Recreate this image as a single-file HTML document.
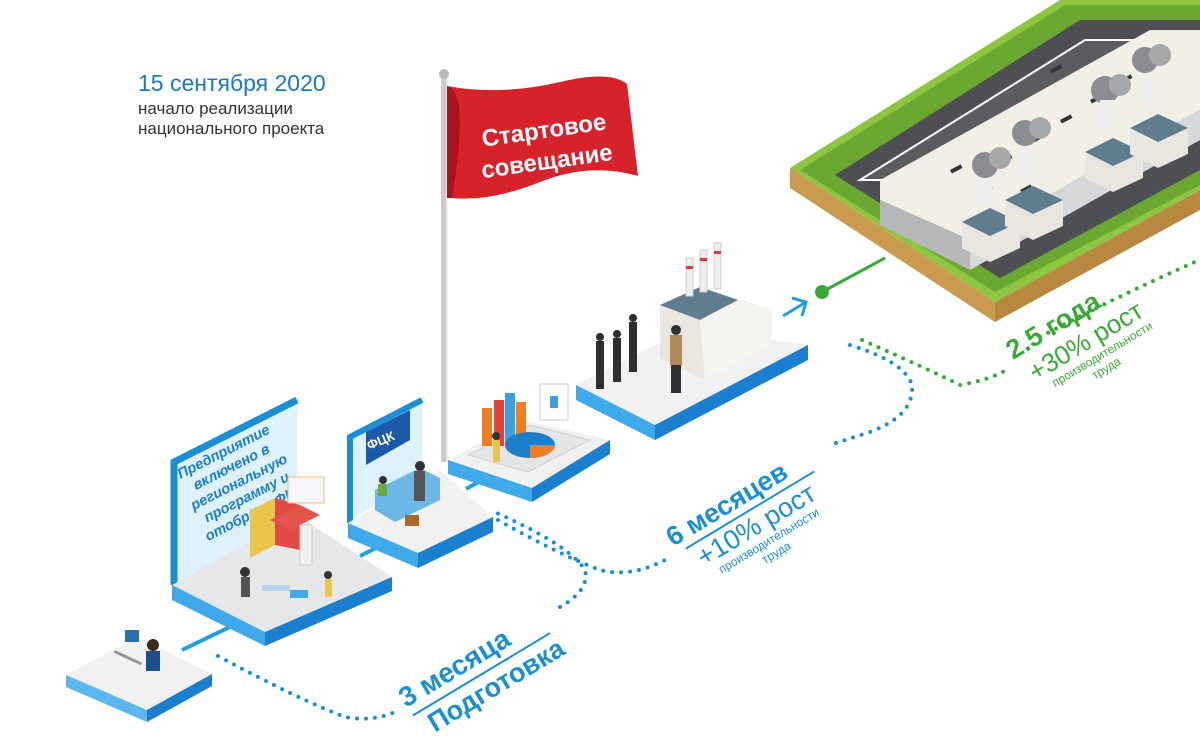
<!DOCTYPE html>
<html><head><meta charset="utf-8"><style>
html,body{margin:0;padding:0;background:#fff;}
svg{display:block;font-family:"Liberation Sans",sans-serif;}
</style></head><body>
<svg width="1200" height="739" viewBox="0 0 1200 739" xmlns="http://www.w3.org/2000/svg">
<!-- big land -->
<polygon points="790,168 1060,0 1200,0 1200,190 995,302" fill="#8cc63f"/>
<polygon points="800,170 1065,5 1200,5 1200,185 995,292" fill="#6aa832"/>
<polygon points="835,175 1080,20 1200,20 1200,170 1000,278" fill="#4d4f53"/>
<polygon points="790,168 995,302 995,322 790,188" fill="#c99a4f"/>
<polygon points="995,302 1200,190 1200,210 995,322" fill="#b98840"/>
<polygon points="860,180 1085,40 1170,40 950,180 " fill="#5a5c60" stroke="#fff" stroke-width="2"/>
<!-- long building -->
<polygon points="880,180 1150,30 1200,30 1200,110 970,240 880,200" fill="#f2efe6"/>
<polygon points="880,200 970,240 970,270 880,225" fill="#b5b7b9"/>
<polygon points="970,240 1200,110 1200,140 970,270" fill="#d7d8d9"/>
<g fill="#333">
<rect x="1000" y="160" width="12" height="4" transform="rotate(-28 1000 160)"/><rect x="1030" y="140" width="12" height="4" transform="rotate(-28 1030 140)"/><rect x="1060" y="120" width="12" height="4" transform="rotate(-28 1060 120)"/><rect x="1090" y="100" width="12" height="4" transform="rotate(-28 1090 100)"/><rect x="1120" y="80" width="12" height="4" transform="rotate(-28 1120 80)"/><rect x="950" y="170" width="12" height="4" transform="rotate(-28 950 170)"/><rect x="980" y="190" width="12" height="4" transform="rotate(-28 980 190)"/><rect x="1020" y="190" width="12" height="4" transform="rotate(-28 1020 190)"/><rect x="1050" y="70" width="12" height="4" transform="rotate(-28 1050 70)"/>
</g>
<g>
<circle cx="985" cy="165" r="13" fill="#8a8c8f"/><circle cx="1000" cy="158" r="11" fill="#a5a7a9"/>
<circle cx="1025" cy="133" r="13" fill="#8a8c8f"/><circle cx="1040" cy="128" r="11" fill="#a5a7a9"/>
<circle cx="1105" cy="90" r="14" fill="#8a8c8f"/><circle cx="1120" cy="85" r="11" fill="#a5a7a9"/>
<circle cx="1145" cy="60" r="13" fill="#8a8c8f"/><circle cx="1160" cy="55" r="11" fill="#a5a7a9"/>
<rect x="978" y="178" width="14" height="28" fill="#eee"/><rect x="1020" y="150" width="14" height="30" fill="#eee"/><rect x="1100" y="100" width="14" height="30" fill="#eee"/><rect x="1140" y="75" width="14" height="30" fill="#eee"/>
<polygon points="962,222 990,208 1020,222 1020,248 990,262 962,248" fill="#e8e6df"/><polygon points="962,222 990,208 1020,222 990,236" fill="#5f7d8f"/>
<polygon points="1005,200 1033,186 1063,200 1063,226 1033,240 1005,226" fill="#e8e6df"/><polygon points="1005,200 1033,186 1063,200 1033,214" fill="#5f7d8f"/>
<polygon points="1085,152 1113,138 1143,152 1143,178 1113,192 1085,178" fill="#e8e6df"/><polygon points="1085,152 1113,138 1143,152 1113,166" fill="#5f7d8f"/>
<polygon points="1130,128 1158,114 1188,128 1188,154 1158,168 1130,154" fill="#e8e6df"/><polygon points="1130,128 1158,114 1188,128 1158,142" fill="#5f7d8f"/>
</g>
<line x1="822" y1="292" x2="885" y2="258" stroke="#3aaa35" stroke-width="3"/>
<circle cx="822" cy="292" r="7" fill="#3aaa35"/>
<path d="M783,316 L806,302 M792,298 L806,302 L802,316" stroke="#1ea0e6" stroke-width="3" fill="none"/>

<g fill="none" stroke-linecap="round" stroke-width="4" stroke-dasharray="0 9">
<path d="M218,656 Q300,700 345,717 Q372,722 395,712" stroke="#1b8fd6"/>
<path d="M560,607 Q590,590 585,570 Q570,545 490,510" stroke="#1b8fd6"/>
<path d="M498,520 Q560,555 600,570 Q630,578 665,560" stroke="#1b8fd6"/>
<path d="M850,345 Q905,362 912,385 Q915,415 870,432 Q845,440 830,445" stroke="#1b8fd6"/>
<path d="M862,340 Q930,370 960,385 Q990,380 1010,368" stroke="#3aaa35"/>
<path d="M1040,337 Q1120,295 1195,262" stroke="#3aaa35"/>
</g>

<!-- platform 1 -->
<polygon points="66,675 137,637 212,674 147,710" fill="#f1f1f2"/>
<polygon points="66,675 147,710 147,722 66,687" fill="#5ab8ec"/>
<polygon points="147,710 212,674 212,686 147,722" fill="#1b7fd0"/>
<rect x="115" y="650" width="30" height="3" fill="#999" transform="rotate(25 115 650)"/>
<rect x="125" y="630" width="14" height="12" fill="#2a6fb0"/>
<circle cx="153" cy="645" r="6" fill="#3a2a20"/><rect x="146" y="651" width="14" height="20" fill="#1f4f8a"/>
<line x1="182" y1="650" x2="236" y2="624" stroke="#1ea0e6" stroke-width="4"/>

<!-- platform 2 -->
<polygon points="172,462 297,400 297,515 172,585" fill="#dff1fa"/>
<path d="M174,585 L174,462 L297,400" fill="none" stroke="#1b8fd6" stroke-width="7"/>
<polygon points="172,585 297,515 392,577 265,632" fill="#e6e7e8"/>
<polygon points="172,585 265,632 265,646 172,600" fill="#3fa9ea"/>
<polygon points="265,632 392,577 392,591 265,646" fill="#1b7fd0"/>
<g transform="translate(242,488) rotate(-27)" fill="#1b7fd0" font-weight="bold" font-style="italic" font-size="14.5" text-anchor="middle">
<text x="0" y="-36">Предприятие</text><text x="0" y="-19">включено в</text><text x="0" y="-2">региональную</text><text x="0" y="15">программу и</text><text x="0" y="32">отобрано ФЦК</text>
</g>
<polygon points="250,510 275,498 275,545 250,558" fill="#e9c64a"/><polygon points="275,498 300,505 300,550 275,545" fill="#e14b43"/>
<polygon points="270,520 300,505 320,515 290,530" fill="#e2534b"/>
<rect x="288" y="477" width="36" height="26" fill="#f5f7fa" stroke="#e4c36a"/>
<rect x="300" y="525" width="12" height="40" fill="#f0f0f0" stroke="#ccc"/>
<circle cx="245" cy="572" r="5" fill="#333"/><rect x="241" y="577" width="9" height="20" fill="#555"/>
<circle cx="328" cy="575" r="4" fill="#333"/><rect x="325" y="579" width="7" height="18" fill="#e9c64a"/>
<rect x="262" y="585" width="28" height="6" fill="#b7d4f0"/>
<rect x="290" y="590" width="18" height="8" fill="#3fa9ea"/>
<line x1="360" y1="556" x2="382" y2="545" stroke="#1ea0e6" stroke-width="4"/>

<!-- platform 3 -->
<polygon points="348,437 422,400 422,470 348,523" fill="#dff1fa"/>
<path d="M350,523 L350,437 L422,400" fill="none" stroke="#1b8fd6" stroke-width="6"/>
<polygon points="366,432 410,410 410,440 366,465" fill="#1a5aa8"/>
<text x="369" y="450" font-size="13" font-weight="bold" fill="#fff" transform="rotate(-22 369 450)">ФЦК</text>
<polygon points="348,523 440,470 493,517 418,553" fill="#f1f1f2"/>
<polygon points="348,523 418,553 418,568 348,538" fill="#3fa9ea"/>
<polygon points="418,553 493,517 493,532 418,568" fill="#1b7fd0"/>
<polygon points="375,490 420,468 440,478 440,500 395,522 375,510" fill="#6bb7e6"/>
<circle cx="420" cy="466" r="5" fill="#333"/><rect x="414" y="471" width="11" height="30" fill="#555"/>
<rect x="405" y="515" width="14" height="11" fill="#a86a2a"/>
<circle cx="383" cy="480" r="4" fill="#333"/><rect x="378" y="484" width="9" height="12" fill="#6aaa3a"/>
<line x1="466" y1="489" x2="480" y2="481" stroke="#1ea0e6" stroke-width="4"/>

<!-- flag pole -->
<rect x="441" y="76" width="6" height="386" fill="#c9cbcd"/>
<rect x="446" y="76" width="2" height="386" fill="#e9eaeb"/>
<circle cx="444" cy="74" r="5" fill="#bbb"/>
<path d="M447,86 Q500,96 560,82 Q610,70 627,84 L638,176 Q590,162 540,182 Q490,202 452,198 Z" fill="#d8222b"/>
<path d="M447,86 Q470,92 452,198 L447,198Z" fill="#a9141c"/>
<text x="545" y="138" fill="#fff" font-size="24" font-weight="bold" text-anchor="middle" transform="rotate(-8 545 138)">Стартовое</text>
<text x="548" y="169" fill="#fff" font-size="24" font-weight="bold" text-anchor="middle" transform="rotate(-8 548 169)">совещание</text>

<!-- platform 4 -->
<polygon points="448,460 522,420 610,440 532,488" fill="#f1f1f2"/>
<polygon points="448,460 532,488 532,502 448,474" fill="#3fa9ea"/>
<polygon points="532,488 610,440 610,454 532,502" fill="#1b7fd0"/>
<polygon points="468,455 530,425 590,440 528,472" fill="#e4e5e7" stroke="#cfd0d2"/>
<rect x="482" y="408" width="10" height="38" fill="#ef7d22"/><rect x="494" y="400" width="10" height="46" fill="#e8403a"/><rect x="505" y="393" width="10" height="52" fill="#3aa0e2"/><rect x="516" y="402" width="10" height="40" fill="#ef7d22"/>
<ellipse cx="530" cy="445" rx="25" ry="13" fill="#1e7ec8"/><path d="M530,445 L555,445 A25,13 0 0 1 530,458Z" fill="#ef7d22"/>
<rect x="540" y="384" width="28" height="36" fill="#fff" stroke="#ccc"/>
<rect x="550" y="396" width="8" height="12" fill="#3aa0e2"/>
<rect x="493" y="440" width="7" height="22" fill="#e9c64a"/><circle cx="496" cy="436" r="4" fill="#333"/>

<!-- platform 5 -->
<polygon points="576,385 690,328 808,345 655,425" fill="#f1f1f2"/>
<polygon points="576,385 655,425 655,440 576,400" fill="#3fa9ea"/>
<polygon points="655,425 808,345 808,360 655,440" fill="#1b7fd0"/>
<polygon points="660,305 700,287 772,310 772,345 705,380 660,358" fill="#e8e6df"/>
<polygon points="660,305 700,287 738,300 700,320" fill="#5f7d8f"/>
<polygon points="700,320 738,300 772,310 772,345 705,380" fill="#f5f4ef"/>
<rect x="686" y="258" width="7" height="38" fill="#eee" stroke="#ccc"/><rect x="700" y="250" width="7" height="42" fill="#eee" stroke="#ccc"/><rect x="714" y="243" width="7" height="46" fill="#eee" stroke="#ccc"/>
<rect x="686" y="266" width="7" height="3" fill="#e33"/><rect x="700" y="258" width="7" height="3" fill="#e33"/><rect x="714" y="251" width="7" height="3" fill="#e33"/>
<g fill="#2d2f33">
<circle cx="600" cy="337" r="4"/><rect x="596" y="341" width="8" height="48"/>
<circle cx="617" cy="334" r="4"/><rect x="613" y="338" width="8" height="44"/>
<circle cx="633" cy="318" r="4"/><rect x="629" y="322" width="8" height="50"/>
<circle cx="676" cy="330" r="5"/><rect x="670" y="335" width="12" height="30" fill="#b08a5a"/><rect x="671" y="365" width="10" height="28"/>
</g>

<text x="138" y="91" fill="#1b78c4" font-size="23">15 сентября 2020</text>
<text x="138" y="114" fill="#333" font-size="17">начало реализации</text>
<text x="138" y="134" fill="#333" font-size="17">национального проекта</text>

<g transform="translate(406,708) rotate(-31)" fill="#1b8fd6">
<text x="0" y="0" font-size="28" font-weight="bold">3 месяца</text>
<rect x="2" y="9" width="160" height="2"/>
<text x="12" y="36" font-size="27" font-weight="bold">Подготовка</text>
</g>
<g transform="translate(673,547) rotate(-31)" fill="#1b8fd6">
<text x="0" y="0" font-size="27" font-weight="bold">6 месяцев</text>
<rect x="10" y="7" width="150" height="2"/>
<text x="16" y="33" font-size="27">+10% рост</text>
<text x="28" y="48" font-size="12">производительности</text>
<text x="70" y="62" font-size="12">труда</text>
</g>
<g transform="translate(1013,360) rotate(-31)" fill="#3aaa35">
<text x="0" y="0" font-size="27" font-weight="bold">2.5 года</text>
<text x="8" y="30" font-size="26">+30% рост</text>
<text x="22" y="45" font-size="12">производительности</text>
<text x="60" y="59" font-size="12">труда</text>
</g>
</svg>
</body></html>
